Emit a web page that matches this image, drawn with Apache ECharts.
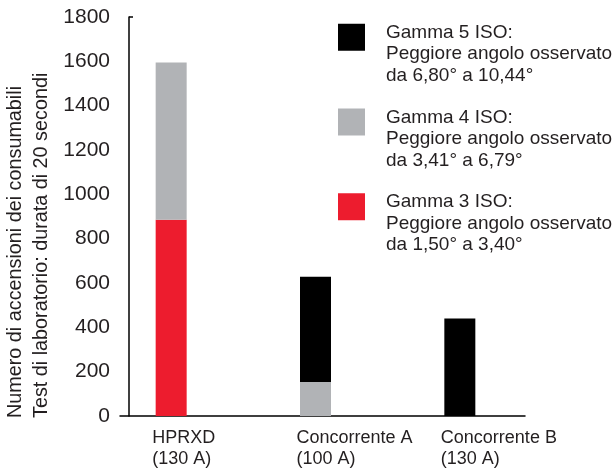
<!DOCTYPE html>
<html>
<head>
<meta charset="utf-8">
<script src="https://cdn.jsdelivr.net/npm/echarts@6/dist/echarts.min.js"></script>
<style>
html,body{margin:0;padding:0;background:#fff;}
#chart{width:616px;height:471px;}
</style>
</head>
<body>
<div id="chart"></div>
<script>
const categories = ['HPRXD\n(130 A)', 'Concorrente A\n(100 A)', 'Concorrente B\n(130 A)'];
const gamma3 = [885, 0, 0];
const gamma4 = [710, 153, 0];
const gamma5 = [0, 475, 440];
const seriesNames = [
  'Gamma 3 ISO:\nPeggiore angolo osservato\nda 1,50° a 3,40°',
  'Gamma 4 ISO:\nPeggiore angolo osservato\nda 3,41° a 6,79°',
  'Gamma 5 ISO:\nPeggiore angolo osservato\nda 6,80° a 10,44°'
];
const yTicks = [0, 200, 400, 600, 800, 1000, 1200, 1400, 1600, 1800];
const yName = 'Numero di accensioni dei consumabili\nTest di laboratorio: durata di 20 secondi';

const FONT = 'Liberation Sans, Arial, Helvetica, sans-serif';
const TXT = '#231f20';
const colors = ['#ed1c2e', '#b1b3b6', '#000000'];

const chart = echarts.init(document.getElementById('chart'), null, {renderer: 'canvas'});
const option = {
  animation: false,
  backgroundColor: '#ffffff',
  textStyle: {fontFamily: FONT},
  grid: [
    {left: 99, right: 84, top: 17, bottom: 55},
    {left: 120, right: 91, top: 17, bottom: 55}
  ],
  legend: {
    orient: 'vertical',
    left: 338,
    top: 0,
    padding: 0,
    itemWidth: 27,
    itemHeight: 27,
    itemGap: -0.5,
    selectedMode: false,
    data: [seriesNames[2], seriesNames[1], seriesNames[0]],
    icon: 'rect',
    formatter: function (name) {
      return '{s| }\n' + name.split('\n').map(s => '{t|' + s + '}').join('\n');
    },
    textStyle: {
      fontFamily: FONT,
      fontSize: 19,
      color: TXT,
      padding: [0, 0, 0, 16],
      rich: {
        s: {fontSize: 10, lineHeight: 34},
        t: {fontFamily: FONT, fontSize: 19, lineHeight: 21.5, color: TXT}
      }
    }
  },
  xAxis: [
    {
      type: 'category',
      gridIndex: 0,
      data: categories,
      axisLine: {show: false},
      axisTick: {show: false},
      axisLabel: {
        margin: 12,
        width: 38,
        overflow: 'none',
        align: 'center',
        formatter: function (v) {
          return v.split('\n').map(s => '{a|' + s + '}').join('\n');
        },
        rich: {
          a: {fontFamily: FONT, fontSize: 18, lineHeight: 21, color: TXT, align: 'left'}
        }
      }
    },
    {
      type: 'value',
      gridIndex: 1,
      min: 0, max: 1,
      axisLine: {show: true, lineStyle: {color: '#000', width: 1.5}},
      axisTick: {show: false},
      axisLabel: {show: false},
      splitLine: {show: false}
    }
  ],
  yAxis: [
    {
      type: 'value',
      gridIndex: 0,
      min: 0,
      max: 1800,
      interval: 200,
      offset: -30,
      axisLine: {show: true, onZero: false, lineStyle: {color: '#000', width: 1.5}},
      axisTick: {show: true, inside: true, length: 4, customValues: [1800], lineStyle: {color: '#000', width: 1.5}},
      axisLabel: {
        margin: 19,
        fontFamily: FONT,
        fontSize: 21,
        color: TXT,
        customValues: yTicks,
        formatter: function (v) { return String(v); }
      },
      splitLine: {show: false}
    },
    {
      type: 'value',
      gridIndex: 1,
      min: 0, max: 1,
      show: false
    }
  ],
  series: [
    {name: seriesNames[0], type: 'bar', stack: 'a', data: gamma3, barWidth: 31, itemStyle: {color: colors[0]}, xAxisIndex: 0, yAxisIndex: 0},
    {name: seriesNames[1], type: 'bar', stack: 'a', data: gamma4, barWidth: 31, itemStyle: {color: colors[1]}, xAxisIndex: 0, yAxisIndex: 0},
    {name: seriesNames[2], type: 'bar', stack: 'a', data: gamma5, barWidth: 31, itemStyle: {color: colors[2]}, xAxisIndex: 0, yAxisIndex: 0}
  ],
  graphic: [
    {
      type: 'text',
      x: 29,
      y: 418,
      rotation: Math.PI / 2,
      style: {
        text: yName,
        fontFamily: FONT,
        fontSize: 19.8,
        lineHeight: 26,
        fill: TXT,
        align: 'left',
        verticalAlign: 'middle'
      }
    }
  ]
};
chart.setOption(option);
</script>
</body>
</html>
